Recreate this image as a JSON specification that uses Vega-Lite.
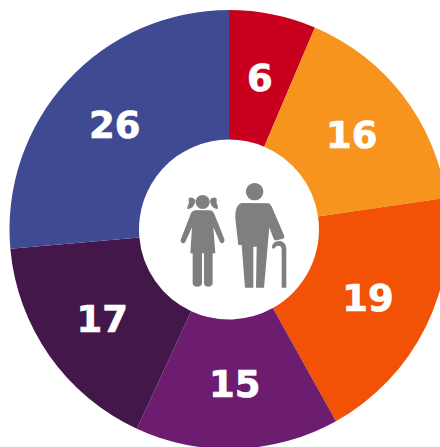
{
"$schema":"https://vega.github.io/schema/vega-lite/v6.json",
"width":440,"height":447,"padding":0,"autosize":{"type":"none"},
"background":"white",
"view":{"stroke":null},
"layer":[
{"data":{"name":"d","values":[
{"segment":"a","order":1,"share":6.4,"label":"6"},
{"segment":"b","order":2,"share":16.3,"label":"16"},
{"segment":"c","order":3,"share":19.2,"label":"19"},
{"segment":"d","order":4,"share":15.0,"label":"15"},
{"segment":"e","order":5,"share":16.7,"label":"17"},
{"segment":"f","order":6,"share":26.4,"label":"26"}]},
"mark":{"type":"arc","outerRadius":219.5,"innerRadius":90},
"encoding":{
"x":{"value":229},"y":{"value":229.5},
"theta":{"field":"share","type":"quantitative","stack":true,"scale":{"domain":[0,100]}},
"order":{"field":"order"},
"color":{"field":"segment","type":"nominal","legend":null,"scale":{"domain":["a","b","c","d","e","f"],"range":["#C8001E","#F7941E","#F15206","#6C1D70","#43174A","#3F4A93"]}}
}},
{"data":{"name":"d"},
"mark":{"type":"text","radius":155,"font":"DejaVu Sans","fontWeight":"bold","fontSize":37,"color":"white","stroke":"white","strokeWidth":0.7,"align":"center","baseline":"middle","dy":2},
"encoding":{
"x":{"value":229},"y":{"value":229.5},
"theta":{"field":"share","type":"quantitative","stack":true,"scale":{"domain":[0,100]}},
"order":{"field":"order"},
"detail":{"field":"segment"},
"text":{"field":"label"}
}},
{"data":{"values":[{"figure":"girl"},{"figure":"man"}]},
"mark":{"type":"point","filled":true,"opacity":1,"size":0.4444,"strokeWidth":0},
"encoding":{
"x":{"value":140},"y":{"value":140},
"color":{"value":"#7F7F7F"},
"shape":{"field":"figure","type":"nominal","legend":null,"scale":{"domain":["girl","man"],"range":[
"M167 186 A21 21 0 1 0 209 186 A21 21 0 1 0 167 186 Z M166 180 C155 168 143 172 146 182 C150 190 140 198 142 207 C155 208 166 196 166 180 Z M210 180 C220 168 232 172 230 182 C227 190 237 198 233 207 C222 208 210 196 210 180 Z M168 211 L208 211 C216 211 220 216 223 222 L253 297 C256 306 246 315 240 306 L220 262 L226 340 L218 340 L218 430 C218 444 192 444 192 430 L192 340 L186 340 L186 430 C186 444 158 444 158 430 L158 340 L151 340 L156 262 L136 306 C130 315 119 306 123 297 L152 222 C155 215 160 211 168 211 Z",
"M318 155 A26 26 0 1 0 370 155 A26 26 0 1 0 318 155 Z M305 189 L385 190 C392 192 395 200 398 206 L433 288 C434 294 430 296 425 297 L410 301 C404 302 402 298 400 294 L388 262 L372 443 L348 443 L350 320 L340 320 L340 443 L315 443 L305 315 L295 315 L287 245 C285 225 285 195 305 189 Z M396 321 C397 308 410 302 420 303 C432 305 439 314 439 326 L439 443 L425 443 L425 328 C425 320 420 317 415 317 C408 317 406 321 404 325 C402 327 396 326 396 321 Z"
]}}
}}
]}
